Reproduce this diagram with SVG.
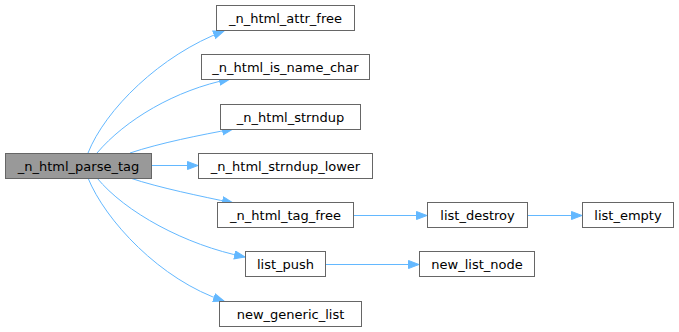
<svg xmlns="http://www.w3.org/2000/svg" width="679" height="332" viewBox="0 0 679 332">
<style>
.n rect{fill:#ffffff;stroke:#666666;stroke-width:1}
.n.m rect{fill:#999999}
.n text{font-family:"DejaVu Sans",sans-serif;font-size:13px;fill:#000000;text-anchor:middle}
.e path{fill:none;stroke:#63b8ff;stroke-width:1}
</style>
<defs>
<marker id="ah" markerUnits="userSpaceOnUse" markerWidth="13" markerHeight="10" refX="11" refY="4.5" orient="auto">
<path d="M0.5,0.5 L11,4.5 L0.5,8.5 z" fill="#63b8ff" stroke="#63b8ff" stroke-width="1"/>
</marker>
</defs>
<g id="edges" class="e">
<path d="M88,153 C105,110 160,55 224,31" marker-end="url(#ah)"/>
<path d="M97,153 C125,120 175,90 230,79" marker-end="url(#ah)"/>
<path d="M130,153 C160,143 200,135 233,129" marker-end="url(#ah)"/>
<path d="M151,165.5 L198,165.5" marker-end="url(#ah)"/>
<path d="M130,178 C160,188 200,196 233,203" marker-end="url(#ah)"/>
<path d="M97,178 C125,212 185,245 245,257" marker-end="url(#ah)"/>
<path d="M88,178 C105,220 160,280 224,301" marker-end="url(#ah)"/>
<path d="M353,215.5 L427,215.5" marker-end="url(#ah)"/>
<path d="M527,215.5 L582,215.5" marker-end="url(#ah)"/>
<path d="M325,264.5 L419,264.5" marker-end="url(#ah)"/>
</g>
<g id="node_parse_tag" class="n m"><rect x="5.5" y="153.5" width="146" height="25"/><text x="78.5" y="170.5">_n_html_parse_tag</text></g>
<g id="node_attr_free" class="n"><rect x="216.5" y="5.5" width="138" height="25"/><text x="285.5" y="22.5">_n_html_attr_free</text></g>
<g id="node_is_name_char" class="n"><rect x="201.5" y="54.5" width="168" height="25"/><text x="285.5" y="71.5">_n_html_is_name_char</text></g>
<g id="node_strndup" class="n"><rect x="220.5" y="104.5" width="140" height="25"/><text x="290.5" y="121.5">_n_html_strndup</text></g>
<g id="node_strndup_lower" class="n"><rect x="198.5" y="153.5" width="174" height="25"/><text x="285.5" y="170.5">_n_html_strndup_lower</text></g>
<g id="node_tag_free" class="n"><rect x="217.5" y="202.5" width="136" height="25"/><text x="285.5" y="219.5">_n_html_tag_free</text></g>
<g id="node_list_push" class="n"><rect x="245.5" y="251.5" width="80" height="25"/><text x="285.5" y="268.5">list_push</text></g>
<g id="node_new_generic_list" class="n"><rect x="219.5" y="301.5" width="142" height="25"/><text x="290.5" y="318.5">new_generic_list</text></g>
<g id="node_list_destroy" class="n"><rect x="427.5" y="202.5" width="100" height="25"/><text x="477.5" y="219.5">list_destroy</text></g>
<g id="node_list_empty" class="n"><rect x="582.5" y="202.5" width="91" height="25"/><text x="628" y="219.5">list_empty</text></g>
<g id="node_new_list_node" class="n"><rect x="419.5" y="251.5" width="115" height="25"/><text x="477" y="268.5">new_list_node</text></g>
</svg>
